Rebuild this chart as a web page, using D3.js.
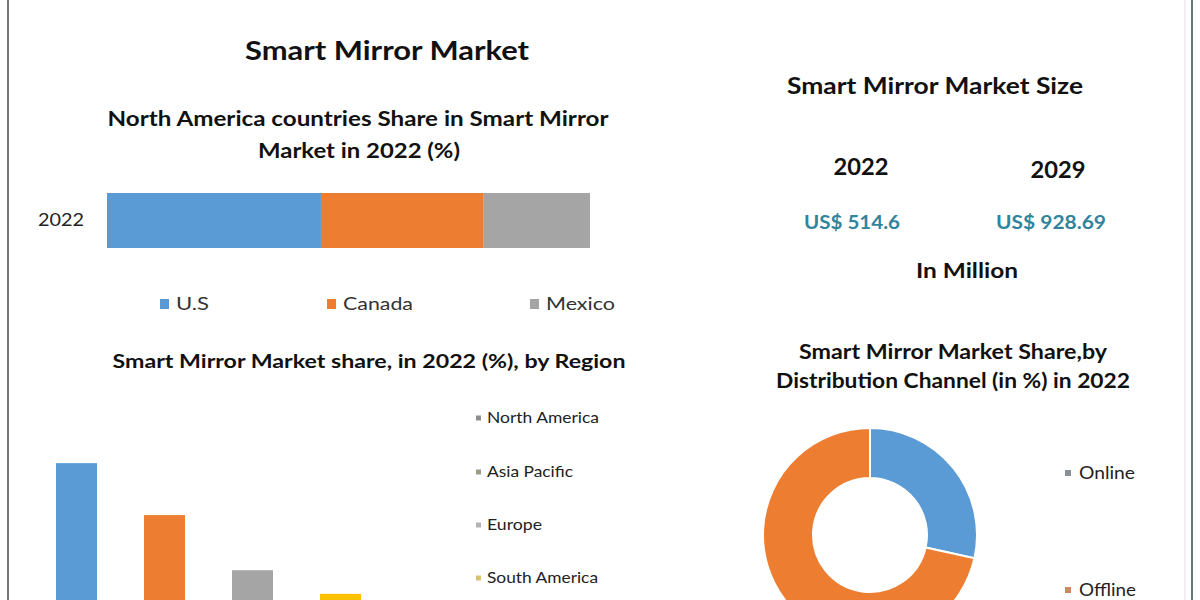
<!DOCTYPE html>
<html><head><meta charset="utf-8">
<script src="https://cdn.jsdelivr.net/npm/d3@7"></script>
<style>
html,body{margin:0;padding:0;background:#fff;}
svg text{font-family:Lato,"Open Sans",sans-serif;}
</style></head>
<body>
<svg id="c" width="1200" height="600"></svg>
<script>
// ---- data ----
const naYear = ["2022"];
const naCountries = ["U.S", "Canada", "Mexico"];
const naShares = [44.3, 33.7, 22.0];
const regions = ["North America", "Asia Pacific", "Europe", "South America"];
const regionShares = [37.5, 27.6, 17.1, 12.6];
const channels = ["Online", "Offline"];
const channelShares = [28.5, 71.5];
const sizeYears = ["2022", "2029"];
const sizeValues = ["US$ 514.6", "US$ 928.69"];

const countryColors = ["#5B9BD5", "#ED7D31", "#A5A5A5"];
const regionColors = ["#5B9BD5", "#ED7D31", "#A5A5A5", "#FFC000"];
const regionLegendColors = ["#8e8e8e", "#9b9c88", "#b3b3b3", "#d9c274"];
const channelColors = ["#5B9BD5", "#ED7D31"];
const channelLegendColors = ["#8a8f93", "#cc8a62"];

const svg = d3.select("#c");

function txt(x, y, s, size, opts = {}) {
  const t = svg.append("text")
    .attr("x", x).attr("y", y).attr("dy", "0.35em")
    .attr("text-anchor", opts.anchor || "middle")
    .attr("font-size", size)
    .attr("font-weight", opts.bold ? 700 : 400)
    .attr("fill", opts.fill || "#111")
    .text(s);
  if (opts.len) t.attr("textLength", opts.len).attr("lengthAdjust", "spacingAndGlyphs");
  return t;
}

// frame lines
svg.append("line").attr("x1", 8).attr("x2", 8).attr("y1", 0).attr("y2", 600)
  .attr("stroke", "#4d5652").attr("stroke-width", 1.6);
svg.append("line").attr("x1", 1192).attr("x2", 1192).attr("y1", 0).attr("y2", 600)
  .attr("stroke", "#3d5a50").attr("stroke-width", 1.6);
svg.append("line").attr("x1", 1185).attr("x2", 1185).attr("y1", 0).attr("y2", 600)
  .attr("stroke", "#f0f0f0").attr("stroke-width", 2);

// ---- main title ----
txt(387, 51, "Smart Mirror Market", 26, {bold: true, len: 284});

// ---- stacked bar: North America countries ----
txt(358, 119, "North America countries Share in Smart Mirror", 20, {bold: true, len: 501});
txt(359, 151, "Market in 2022 (%)", 20, {bold: true, len: 202});

const xs = d3.scaleLinear().domain([0, 100]).range([107, 590]);
const ys = d3.scaleBand().domain(naYear).range([193, 248]).padding(0);
let acc = 0;
const stack = naShares.map((v, i) => { const s = {c: naCountries[i], x0: acc, x1: acc + v, i}; acc += v; return s; });
svg.append("g").selectAll("rect").data(stack).join("rect")
  .attr("x", d => xs(d.x0)).attr("width", d => xs(d.x1) - xs(d.x0))
  .attr("y", ys("2022")).attr("height", ys.bandwidth())
  .attr("fill", d => countryColors[d.i]);
const yAxis = svg.append("g").attr("transform", "translate(95,0)")
  .call(d3.axisLeft(ys).tickSize(0).tickPadding(11));
yAxis.select(".domain").remove();
yAxis.selectAll("text").attr("font-size", 18).attr("fill", "#222")
  .attr("textLength", 46).attr("lengthAdjust", "spacingAndGlyphs")
  .style("font-family", "Lato, sans-serif");

const legX = [160, 327, 530];
const legLen = [33, 70, 69];
naCountries.forEach((c, i) => {
  svg.append("rect").attr("x", legX[i]).attr("y", 299).attr("width", 9).attr("height", 10)
    .attr("fill", countryColors[i]);
  txt(legX[i] + 16, 304, c, 18, {anchor: "start", fill: "#333", len: legLen[i]});
});

// ---- region bar chart ----
txt(369, 361, "Smart Mirror Market share, in 2022 (%), by Region", 19.5, {bold: true, len: 513});
const xr = d3.scaleBand().domain(regions).range([12, 405]).paddingInner(0.534).paddingOuter(0.5);
const yr = d3.scaleLinear().domain([0, 40]).range([660, 450]);
svg.append("g").selectAll("rect").data(regions).join("rect")
  .attr("x", d => xr(d)).attr("width", xr.bandwidth())
  .attr("y", (d, i) => yr(regionShares[i]))
  .attr("height", (d, i) => yr(0) - yr(regionShares[i]))
  .attr("fill", (d, i) => regionColors[i]);

const rLegY = [418, 472, 525, 578];
const rLegLen = [112, 86, 55, 111];
regions.forEach((r, i) => {
  svg.append("rect").attr("x", 476).attr("y", rLegY[i] - 2.5).attr("width", 5).attr("height", 5)
    .attr("fill", regionLegendColors[i]);
  txt(487, rLegY[i], r, 15, {anchor: "start", fill: "#222", len: rLegLen[i]});
});

// ---- market size ----
txt(935, 86, "Smart Mirror Market Size", 22, {bold: true, len: 296});
const sizeX = [861, 1058];
const sizeYearY = [167, 170];
const sizeValX = [852, 1051];
sizeYears.forEach((y, i) => {
  txt(sizeX[i], sizeYearY[i], y, 23, {bold: true, len: 55});
});
const valLen = [96, 110];
sizeValues.forEach((v, i) => {
  txt(sizeValX[i], 223, v, 18, {bold: true, fill: "#31849b", len: valLen[i]});
});
txt(967, 271, "In Million", 21, {bold: true, len: 102});

// ---- donut ----
txt(953, 352, "Smart Mirror Market Share,by", 20, {bold: true, len: 308});
txt(953, 381, "Distribution Channel (in %) in 2022", 20, {bold: true, len: 354});
const pie = d3.pie().sort(null).value(d => d)(channelShares);
const arc = d3.arc().innerRadius(57).outerRadius(107);
svg.append("g").attr("transform", "translate(870,535)")
  .selectAll("path").data(pie).join("path")
  .attr("d", arc).attr("fill", (d, i) => channelColors[i])
  .attr("stroke", "#fff").attr("stroke-width", 2);
const cLegY = [473, 590];
const cLegLen = [56, 57];
channels.forEach((c, i) => {
  svg.append("rect").attr("x", 1065).attr("y", cLegY[i] - 3).attr("width", 6).attr("height", 6)
    .attr("fill", channelLegendColors[i]);
  txt(1079, cLegY[i], c, 18, {anchor: "start", fill: "#222", len: cLegLen[i]});
});
</script>
</body></html>
